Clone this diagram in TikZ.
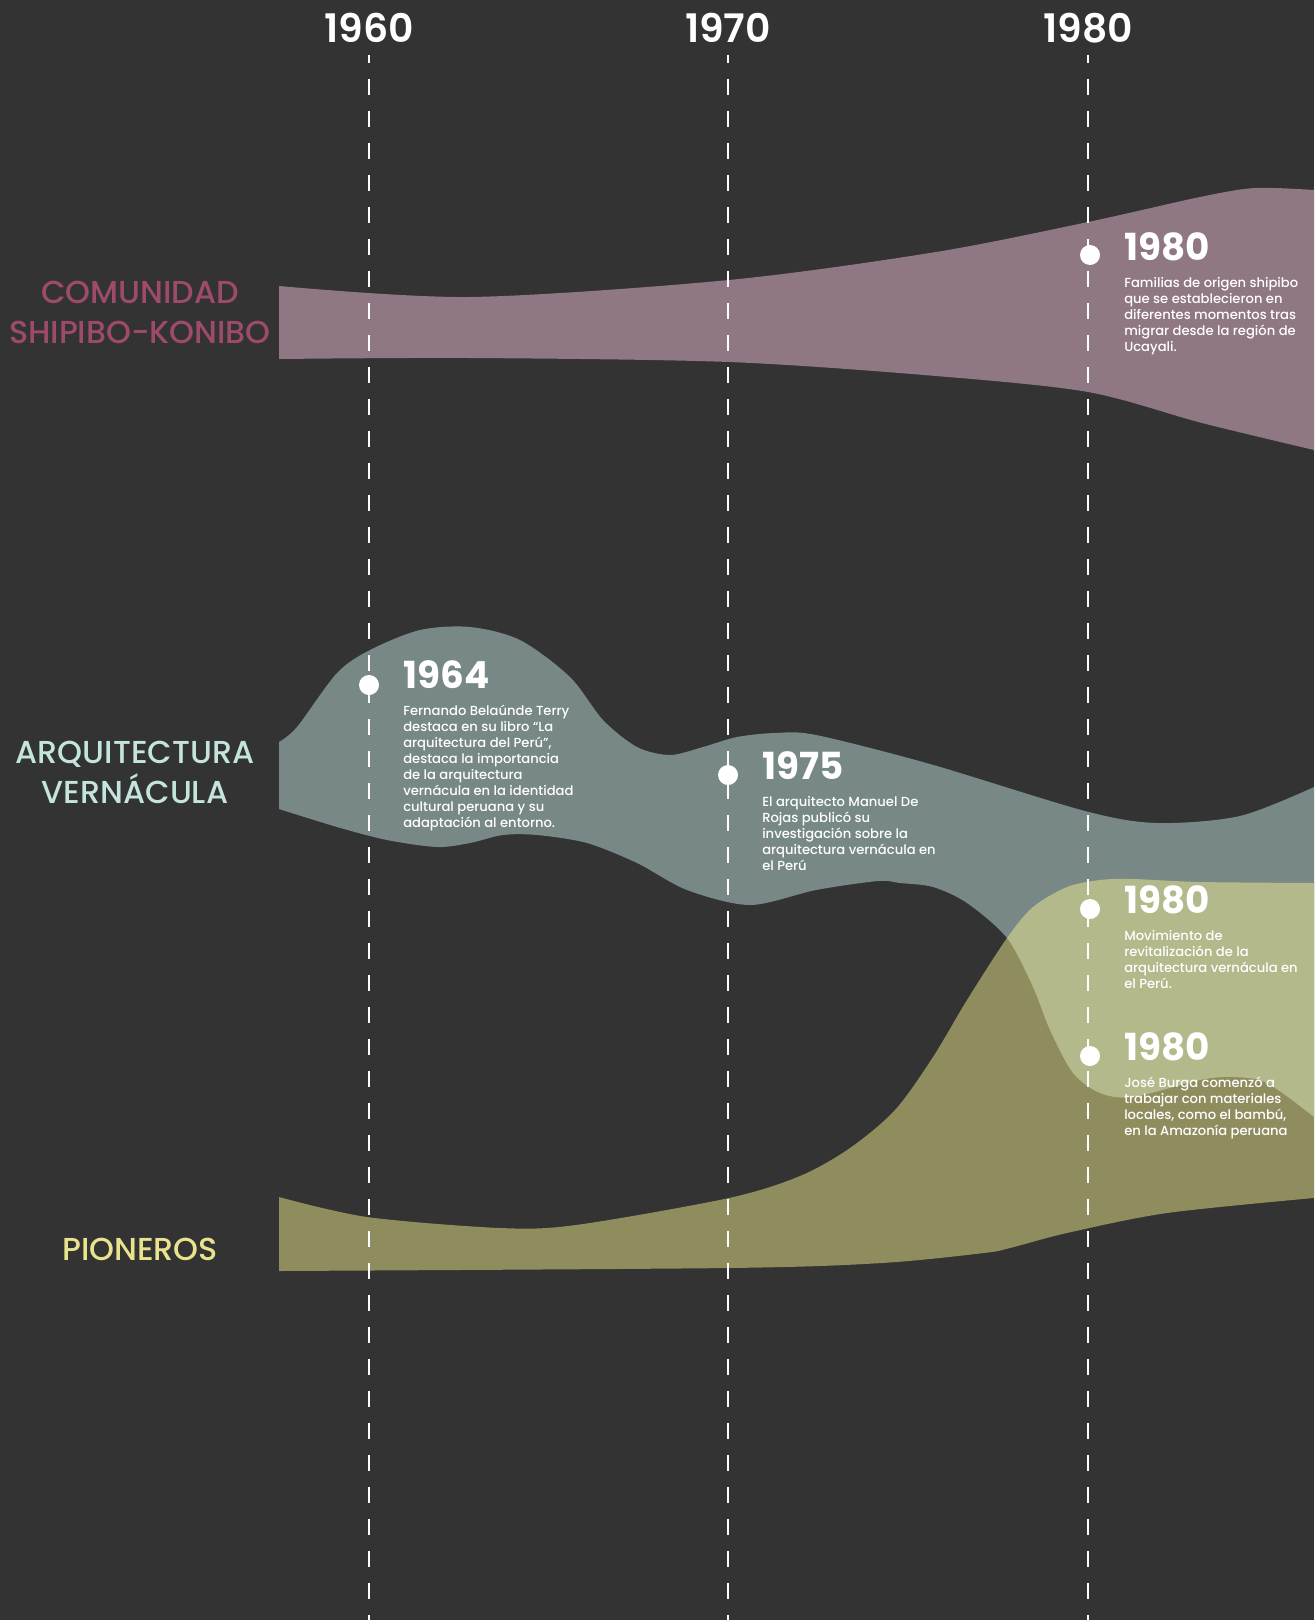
\documentclass[tikz,border=0pt]{standalone}
\usepackage{fontspec}
\setmainfont{Poppins}
\newfontfamily\popsemi{Poppins SemiBold}
\newfontfamily\popmedium{Poppins Medium}
\definecolor{bgdark}{HTML}{333333}
\definecolor{shipibo}{HTML}{8F7783}
\definecolor{vernacula}{HTML}{778886}
\definecolor{pioneros}{HTML}{8F8C5E}
\definecolor{mezcla}{HTML}{B3B98A}
\definecolor{shipibotext}{HTML}{9D4A6B}
\definecolor{vernaculatext}{HTML}{C4E4DE}
\definecolor{pionerostext}{HTML}{E8E38C}
% band outlines, in pixels of the layout
\newcommand{\bandshipibo}{plot[smooth] coordinates {(279,286) (470,297) (729,280) (936,252) (1088,222) (1200,197) (1255,188) (1314,190)}
  -- plot[smooth] coordinates {(1314,450) (1202,423) (1088,392) (936,376) (729,362) (470,358) (279,359)} -- cycle}
\newcommand{\bandvernacula}{plot[smooth] coordinates {(279,742) (297,727) (337,673) (370,650) (420,630) (470,627) (520,640) (570,677) (603,720) (637,747) (670,755) (703,747) (737,737) (775,733) (816,735) (930,764) (1085,811) (1157,823) (1240,816) (1314,787)}
  -- plot[smooth] coordinates {(1314,1117) (1267,1083) (1233,1077) (1200,1080) (1133,1097) (1100,1093) (1073,1073) (1050,1030) (1033,987) (1007,938) (967,903) (933,887) (900,883) (878,881) (816,890) (750,905) (687,890) (637,863) (587,843) (537,835) (503,835) (470,843) (437,847) (387,840) (337,827) (279,809)} -- cycle}
\newcommand{\bandpioneros}{plot[smooth] coordinates {(279,1197) (367,1217) (500,1228) (576,1225) (729,1198) (800,1176) (850,1148) (895,1110) (933,1057) (967,1000) (1007,938) (1033,907) (1067,887) (1100,880) (1133,879) (1200,882) (1314,883)}
  -- plot[smooth] coordinates {(1314,1198) (1167,1213) (1067,1233) (1010,1248) (984,1253) (882,1263) (729,1268) (279,1271)} -- cycle}
\begin{document}
\begin{tikzpicture}[
    x=0.75pt, y=-0.75pt,
    decade/.style={text=white, font=\popsemi\fontsize{29.5}{30}\selectfont},
    category/.style={align=center, font=\popmedium\fontsize{23.8}{30}\selectfont},
    eventyear/.style={anchor=west, inner sep=0pt, text=white, font=\bfseries\fontsize{28}{29}\selectfont},
    eventtext/.style={anchor=north west, inner sep=0pt, align=left, text=white, font=\popmedium\fontsize{9.85}{12}\selectfont},
    gridline/.style={white, line width=2.2pt, dash pattern=on 12pt off 12pt, dash phase=6pt},
    milestone/.style={circle, fill=white, inner sep=0pt, minimum size=15pt}
]
\useasboundingbox (0,0) rectangle (1314,1620);
\fill[bgdark] (0,0) rectangle (1314,1620);

% bands
\fill[shipibo] \bandshipibo;
\fill[vernacula] \bandvernacula;
\fill[pioneros] \bandpioneros;
\begin{scope}
  \clip \bandpioneros;
  \fill[mezcla] \bandvernacula;
\end{scope}

% decades
\node[decade] (d1960) at (369,28) {1960};
\node[decade] (d1970) at (728,28) {1970};
\node[decade] (d1980) at (1088,28) {1980};
\coordinate (e1960) at (369,1620);
\coordinate (e1970) at (728,1620);
\coordinate (e1980) at (1088,1620);
\foreach \d in {1960,1970,1980}
  \draw[gridline] (d\d.south |- 0,55) -- (e\d);

% categories
\node[category, text=shipibotext] (cshipibo) at (140,312) {COMUNIDAD\\SHIPIBO-KONIBO};
\node[category, text=vernaculatext] (cvernacula) at (135,772) {ARQUITECTURA\\VERNÁCULA};
\node[category, text=pionerostext] (cpioneros) at (140,1249) {PIONEROS};

% milestones
\node[milestone] (m1) at (1090,255) {};
\node[eventyear] (y1) at (1124,247) {1980};
\node[eventtext] (t1) at (1124,277) {Familias de origen shipibo\\que se establecieron en\\diferentes momentos tras\\migrar desde la región de\\Ucayali.};

\node[milestone] (m2) at (369,685) {};
\node[eventyear] (y2) at (403,675) {1964};
\node[eventtext] (t2) at (403,705) {Fernando Belaúnde Terry\\destaca en su libro “La\\arquitectura del Perú”,\\destaca la importancia\\de la arquitectura\\vernácula en la identidad\\cultural peruana y su\\adaptación al entorno.};

\node[milestone] (m3) at (728,775) {};
\node[eventyear] (y3) at (762,766) {1975};
\node[eventtext] (t3) at (762,796) {El arquitecto Manuel De\\Rojas publicó su\\investigación sobre la\\arquitectura vernácula en\\el Perú};

\node[milestone] (m4) at (1090,909) {};
\node[eventyear] (y4) at (1124,900) {1980};
\node[eventtext] (t4) at (1124,930) {Movimiento de\\revitalización de la\\arquitectura vernácula en\\el Perú.};

\node[milestone] (m5) at (1090,1056) {};
\node[eventyear] (y5) at (1124,1047) {1980};
\node[eventtext] (t5) at (1124,1077) {José Burga comenzó a\\trabajar con materiales\\locales, como el bambú,\\en la Amazonía peruana};
\end{tikzpicture}
\end{document}
